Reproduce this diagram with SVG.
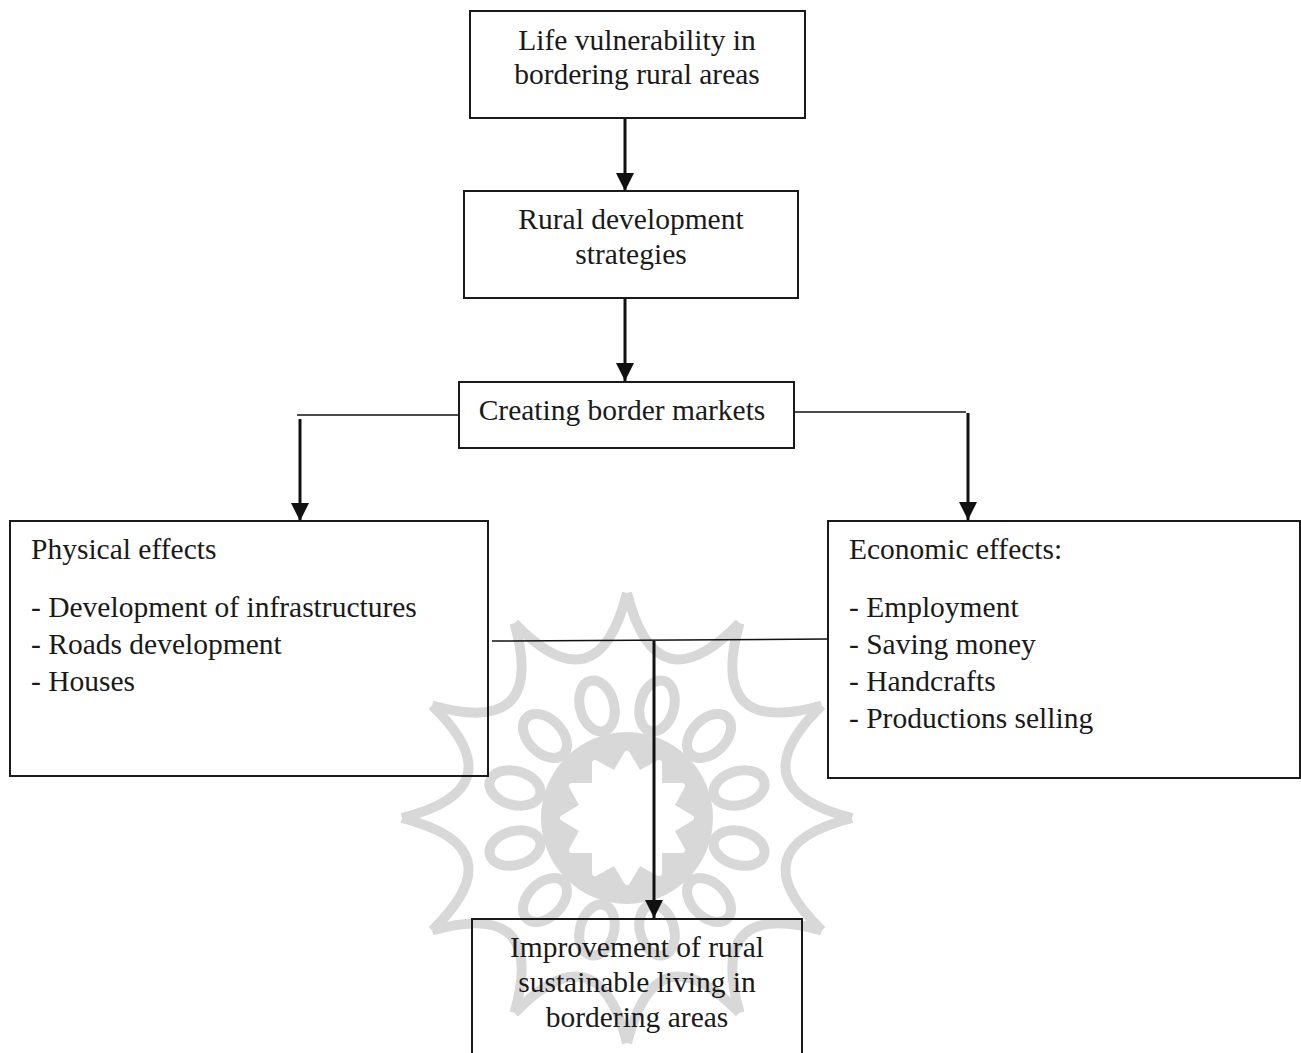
<svg xmlns="http://www.w3.org/2000/svg" width="1301" height="1053" viewBox="0 0 1301 1053">
<style>
.box{fill:none;stroke:#1a1a1a;stroke-width:2}
.t{font-family:"Liberation Serif","Times New Roman",serif;font-size:29.5px;fill:#1a1a1a}
.c{text-anchor:middle}
.arr{stroke:#111;stroke-width:3;fill:none}
.ln{stroke:#111;stroke-width:1.5;fill:none}
.wm{fill:none;stroke:#d8d8d8;stroke-width:10;stroke-linejoin:round}
</style>
<defs>
<marker id="ah" viewBox="0 0 10 10" refX="10" refY="5" markerWidth="6" markerHeight="6" markerUnits="strokeWidth" orient="auto">
<path d="M0,0 L10,5 L0,10 z" fill="#111"/>
</marker>
<path id="arc" d="M 0 -225 Q 29.2 -109.2 112.5 -194.9"/>
<ellipse id="petal" cx="0" cy="-116" rx="17" ry="26" fill="#fff"/>
<path id="flower" d="M 0 -64 L 12 -44 L 32 -55 L 32 -32 L 55 -32 L 44 -12 L 64 0 L 44 12 L 55 32 L 32 32 L 32 55 L 12 44 L 0 64 L -12 44 L -32 55 L -32 32 L -55 32 L -44 12 L -64 0 L -44 -12 L -55 -32 L -32 -32 L -32 -55 L -12 -44 Z"/>
</defs>
<g id="watermark" class="wm" transform="translate(627,818)">
<circle r="86" fill="#d8d8d8" stroke="none"/>
<use href="#arc"/><use href="#arc" transform="rotate(30)"/><use href="#arc" transform="rotate(60)"/><use href="#arc" transform="rotate(90)"/><use href="#arc" transform="rotate(120)"/><use href="#arc" transform="rotate(150)"/><use href="#arc" transform="rotate(180)"/><use href="#arc" transform="rotate(210)"/><use href="#arc" transform="rotate(240)"/><use href="#arc" transform="rotate(270)"/><use href="#arc" transform="rotate(300)"/><use href="#arc" transform="rotate(330)"/>
<use href="#petal" transform="rotate(15)"/><use href="#petal" transform="rotate(45)"/><use href="#petal" transform="rotate(75)"/><use href="#petal" transform="rotate(105)"/><use href="#petal" transform="rotate(135)"/><use href="#petal" transform="rotate(165)"/><use href="#petal" transform="rotate(195)"/><use href="#petal" transform="rotate(225)"/><use href="#petal" transform="rotate(255)"/><use href="#petal" transform="rotate(285)"/><use href="#petal" transform="rotate(315)"/><use href="#petal" transform="rotate(345)"/>
<use href="#flower" fill="#fff" stroke="#fff" stroke-width="6"/>
</g>
<g id="connectors">
<line class="arr" x1="625" y1="119" x2="625" y2="191" marker-end="url(#ah)"/>
<line class="arr" x1="625" y1="299" x2="625" y2="381" marker-end="url(#ah)"/>
<line class="ln" x1="297" y1="415" x2="459" y2="415"/>
<line class="arr" x1="300" y1="419" x2="300" y2="521" marker-end="url(#ah)"/>
<line class="ln" x1="794" y1="412" x2="966" y2="412"/>
<line class="arr" x1="968" y1="413" x2="968" y2="520" marker-end="url(#ah)"/>
<line class="ln" x1="492" y1="641" x2="828" y2="639"/>
<line class="arr" x1="654" y1="641" x2="654" y2="918" marker-end="url(#ah)"/>
</g>
<g id="node-life">
<rect class="box" x="470" y="11" width="335" height="107"/>
<text class="t c" x="637" y="50">Life vulnerability in</text>
<text class="t c" x="637" y="84">bordering rural areas</text>
</g>
<g id="node-strategies">
<rect class="box" x="464" y="191" width="334" height="107"/>
<text class="t c" x="631" y="229">Rural development</text>
<text class="t c" x="631" y="264">strategies</text>
</g>
<g id="node-markets">
<rect class="box" x="459" y="382" width="335" height="66"/>
<text class="t c" x="622" y="420">Creating border markets</text>
</g>
<g id="node-physical">
<rect class="box" x="10" y="521" width="478" height="255"/>
<text class="t" x="31" y="559">Physical effects</text>
<text class="t" x="31" y="617">- Development of infrastructures</text>
<text class="t" x="31" y="654">- Roads development</text>
<text class="t" x="31" y="691">- Houses</text>
</g>
<g id="node-economic">
<rect class="box" x="828" y="521" width="472" height="257"/>
<text class="t" x="849" y="559">Economic effects:</text>
<text class="t" x="849" y="617">- Employment</text>
<text class="t" x="849" y="654">- Saving money</text>
<text class="t" x="849" y="691">- Handcrafts</text>
<text class="t" x="849" y="728">- Productions selling</text>
</g>
<g id="node-improvement">
<rect class="box" x="472" y="919" width="330" height="140"/>
<text class="t c" x="637" y="957">Improvement of rural</text>
<text class="t c" x="637" y="992">sustainable living in</text>
<text class="t c" x="637" y="1027">bordering areas</text>
</g>
</svg>
